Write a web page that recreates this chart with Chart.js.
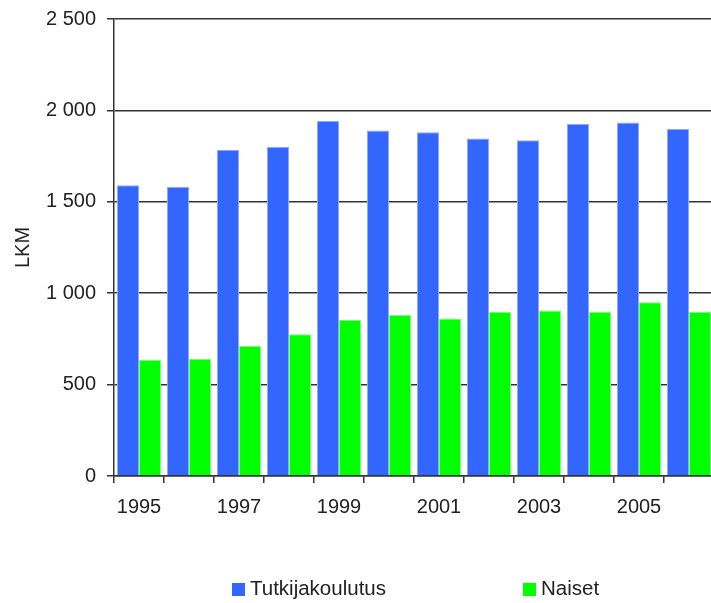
<!DOCTYPE html>
<html>
<head>
<meta charset="utf-8">
<script src="https://cdn.jsdelivr.net/npm/chart.js@4/dist/chart.umd.min.js"></script>
<style>
  html, body { margin: 0; padding: 0; background: #fff; overflow: hidden; width: 711px; height: 603px; }
  #wrap { position: absolute; left: 0; top: 0; width: 720px; height: 603px; }
  #legend { position: absolute; top: 574px; left: 0; width: 711px; height: 28px;
            font-family: "Liberation Sans", Arial, sans-serif; font-size: 20.5px; color: #222; }
  .item { position: absolute; top: 0; line-height: 28px; white-space: nowrap; }
  .sw { display: inline-block; width: 13px; height: 13px; margin-right: 5px; vertical-align: -1px; }
</style>
</head>
<body>
<div id="wrap"><canvas id="c"></canvas></div>
<div id="legend"></div>
<script>
const categories = ["1995","1996","1997","1998","1999","2000","2001","2002","2003","2004","2005","2006"];
const tutkijakoulutus = [1590, 1583, 1783, 1801, 1942, 1890, 1880, 1846, 1837, 1925, 1934, 1898];
const naiset = [635, 642, 711, 775, 853, 881, 862, 897, 906, 897, 950, 897];
const seriesNames = ["Tutkijakoulutus", "Naiset"];
const seriesColors = ["#3366FF", "#00FF00"];
const yTicks = [0, 500, 1000, 1500, 2000, 2500];

const FONT = { family: '"Liberation Sans", Arial, sans-serif', size: 20 };
const AX = '#333';

function fmt(v) {
  return String(v).replace(/\B(?=(\d{3})+(?!\d))/g, ' ');
}

new Chart(document.getElementById('c'), {
  type: 'bar',
  data: {
    labels: categories,
    datasets: [
      { label: seriesNames[0], data: tutkijakoulutus, backgroundColor: seriesColors[0],
        borderColor: '#8fa9ff', borderWidth: 1, borderSkipped: 'bottom',
        categoryPercentage: 0.88, barPercentage: 1.0 },
      { label: seriesNames[1], data: naiset, backgroundColor: seriesColors[1],
        borderColor: '#7dff7d', borderWidth: 1, borderSkipped: 'bottom',
        categoryPercentage: 0.88, barPercentage: 1.0 }
    ]
  },
  options: {
    responsive: true,
    maintainAspectRatio: false,
    animation: false,
    layout: { padding: { left: 0, right: 6, top: 19, bottom: 77 } },
    plugins: { legend: { display: false }, tooltip: { enabled: false } },
    scales: {
      x: {
        offset: true,
        afterFit: s => { s.height = 50; s.paddingLeft = 0; s.paddingRight = 0; },
        grid: { display: true, drawOnChartArea: false, drawTicks: true, tickLength: 7,
                offset: true, color: AX, lineWidth: 1.5 },
        border: { display: true, color: AX, width: 1.5 },
        ticks: { autoSkip: false, maxRotation: 0, padding: 12, color: '#222', font: FONT,
                 callback: (v, i) => (i % 2 === 0 ? categories[i] : '') }
      },
      y: {
        min: yTicks[0], max: yTicks[yTicks.length - 1],
        afterFit: s => { s.width = 114; s.paddingTop = 0; s.paddingBottom = 0; },
        afterBuildTicks: s => { s.ticks = yTicks.map(v => ({ value: v })); },
        grid: { color: AX, lineWidth: 1.5, drawTicks: true, tickLength: 7 },
        border: { display: true, color: AX, width: 1.5 },
        ticks: { padding: 11, color: '#222', font: FONT, callback: v => fmt(v) },
        title: { display: true, text: 'LKM', color: '#222', font: FONT, padding: { top: 11, bottom: 0 } }
      }
    }
  }
});

// HTML legend
const legend = document.getElementById('legend');
const legendX = [232, 523];
seriesNames.forEach((name, i) => {
  const d = document.createElement('div');
  d.className = 'item';
  d.style.left = legendX[i] + 'px';
  d.innerHTML = '<span class="sw" style="background:' + seriesColors[i] + '"></span>' + name;
  legend.appendChild(d);
});
</script>
</body>
</html>
